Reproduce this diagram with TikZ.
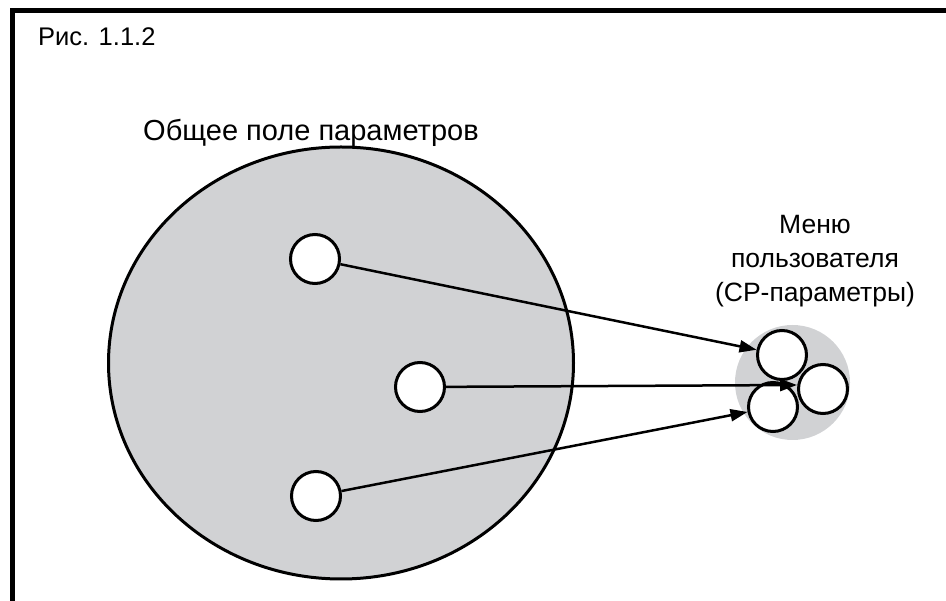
\documentclass[tikz,border=0pt]{standalone}
\usepackage{fontspec}
\setmainfont{Liberation Sans}
\usetikzlibrary{shapes,arrows.meta}
\definecolor{fieldgray}{HTML}{D1D2D4}
\tikzstyle{field} = [ellipse, draw, line width=3pt, fill=fieldgray, minimum width=465pt, minimum height=432pt, inner sep=0pt]
\tikzstyle{param} = [circle, draw, line width=3pt, fill=white, minimum size=49pt, inner sep=0pt]
\tikzstyle{menuspot} = [circle, fill=fieldgray, minimum size=115pt, inner sep=0pt]
\tikzstyle{arrow} = [draw, line width=2.5pt, -{Triangle[length=17pt, width=12pt]}]
\tikzstyle{frame} = [line width=5pt, line cap=rect]
\tikzstyle{lbl} = [align=center, inner sep=0pt]

\begin{document}
\begin{tikzpicture}[x=1pt, y=-1pt]
\useasboundingbox (0,0) rectangle (946,601);
%% frame
\draw[frame] (12,601) -- (12,10.5) -- (946,10.5);
\node[lbl, font=\fontsize{25.5}{30}\selectfont, anchor=base west] at (38,46) (fig) {Рис. 1.1.2};

%% general field of parameters
\node[field] at (341,363) (field) {};
\node[lbl, font=\fontsize{29}{34}\selectfont, anchor=base west] at (143,141) (fieldtitle) {Общее поле параметров};
\node[param] at (315,259) (p1) {};
\node[param] at (420,387) (p2) {};
\node[param] at (316,496) (p3) {};

%% user menu
\node[menuspot] at (792.5,382.5) (menu) {};
\node[param] at (782,355) (m1) {};
\node[param] at (823,389) (m2) {};
\node[param] at (773,407) (m3) {};
\coordinate (mgap) at (797,385);
\node[lbl, font=\fontsize{26.5}{34}\selectfont, anchor=base] at (815,302) (menutitle) {Меню\\пользователя\\(СР-параметры)};

%% arrows
\path [arrow] (p1) to (m1);
\path [arrow] (p2) to (mgap);
\path [arrow] (p3) to (m3);
\end{tikzpicture}
\end{document}
